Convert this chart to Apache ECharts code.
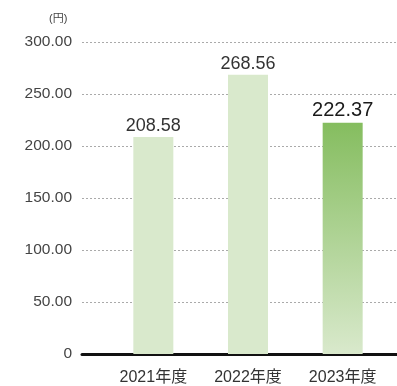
<!DOCTYPE html>
<html>
<head>
<meta charset="utf-8">
<script src="https://cdn.jsdelivr.net/npm/echarts@6/dist/echarts.min.js"></script>
<style>
  html, body { margin: 0; padding: 0; background: #fff; }
  #chart { width: 397px; height: 386px; }
</style>
</head>
<body>
<div id="chart"></div>
<script>
// Fiscal years and per-share amounts (円)
const categories = ['2021年度', '2022年度', '2023年度'];
const values = [208.58, 268.56, 222.37];
const yTicks = [0, 50, 100, 150, 200, 250, 300];

const FONT = '"Liberation Sans", "Noto Sans CJK JP", sans-serif';
const chart = echarts.init(document.getElementById('chart'));

const pale = '#d9e9cc';
const latest = new echarts.graphic.LinearGradient(0, 0, 0, 1, [
  { offset: 0, color: '#85bd5f' },
  { offset: 1, color: '#d9e9cc' }
]);

chart.setOption({
  animation: false,
  textStyle: { fontFamily: FONT },
  graphic: [{
    type: 'text', left: 49, top: 13,
    style: { text: '(円)', fontSize: 11, fill: '#444', fontFamily: FONT }
  }],
  grid: [
    { left: 82, right: 0, top: 42, bottom: 32 },
    { left: 106, right: 7, top: 42, bottom: 32 }
  ],
  xAxis: [
    {
      gridIndex: 0, type: 'value', min: 0, max: 1,
      axisLine: { show: true, onZero: false, lineStyle: { color: '#111', width: 3 } },
      axisTick: { show: false }, axisLabel: { show: false }, splitLine: { show: false }
    },
    {
      gridIndex: 1, type: 'category', data: categories,
      axisLine: { show: false }, axisTick: { show: false },
      axisLabel: { color: '#333', fontSize: 16, margin: 16, fontFamily: FONT }
    }
  ],
  yAxis: [
    {
      gridIndex: 0, type: 'value', min: yTicks[0], max: yTicks[yTicks.length - 1], interval: 50,
      axisLine: { show: false }, axisTick: { show: false },
      axisLabel: {
        color: '#444', fontSize: 15.5, margin: 10, fontFamily: FONT,
        formatter: v => v === 0 ? '0' : v.toFixed(2)
      },
      splitLine: { lineStyle: { color: '#aaa', type: [2, 2], width: 1 } }
    },
    {
      gridIndex: 1, type: 'value', min: yTicks[0], max: yTicks[yTicks.length - 1], interval: 50,
      axisLine: { show: false }, axisTick: { show: false },
      axisLabel: { show: false }, splitLine: { show: false }
    }
  ],
  series: [{
    type: 'bar', xAxisIndex: 1, yAxisIndex: 1, barWidth: 40,
    data: values.map((v, i) => {
      const last = i === values.length - 1;
      return {
        value: v,
        itemStyle: { color: last ? latest : pale },
        label: {
          show: true, position: 'top', distance: 2,
          formatter: p => p.value.toFixed(2),
          color: last ? '#1a1a1a' : '#333',
          fontSize: last ? 20 : 18,
          fontFamily: FONT
        }
      };
    })
  }]
});
</script>
</body>
</html>
